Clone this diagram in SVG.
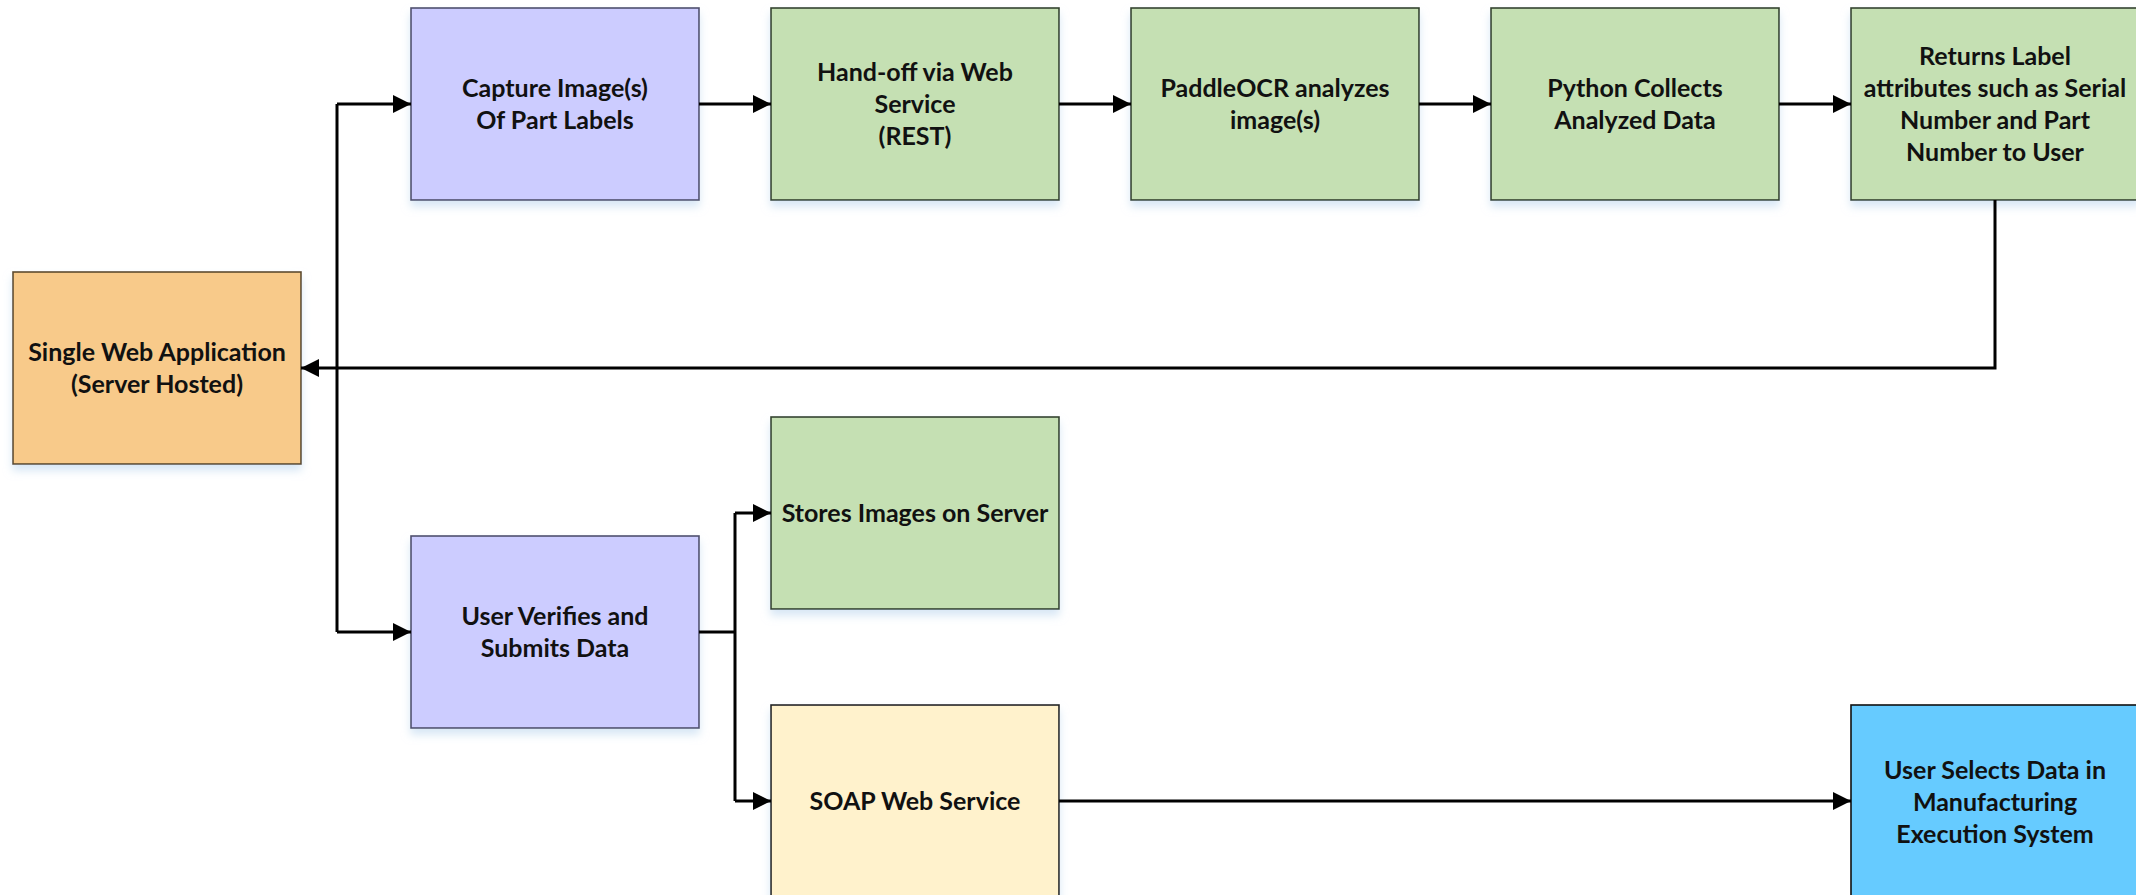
<svg xmlns="http://www.w3.org/2000/svg" width="2136" height="895" viewBox="0 0 2136 895">
<style>
.box{stroke-width:1.6}
.orange{fill:#F8CA8A;stroke:#5E4B2E}
.lav{fill:#CCCCFF;stroke:#4F4F6E}
.green{fill:#C5E0B3;stroke:#34432D}
.yellow{fill:#FFF2CC;stroke:#222}
.blue{fill:#66CBFF;stroke:#111}
text{font-family:Lato,"Open Sans","Liberation Sans",sans-serif;font-weight:bold;font-size:25px;fill:#111;text-anchor:middle}
.conn{fill:none;stroke:#000;stroke-width:3}
</style>
<defs>
<filter id="sh" x="-10%" y="-10%" width="120%" height="130%">
<feDropShadow dx="0" dy="6" stdDeviation="4" flood-color="#BDD7EE" flood-opacity="0.6"/>
</filter>
<marker id="arr" viewBox="0 0 10 10" refX="10" refY="5" markerWidth="6" markerHeight="6" markerUnits="strokeWidth" orient="auto">
<path d="M0,0 L10,5 L0,10 Z" fill="#000"/>
</marker>
</defs>
<rect width="2136" height="895" fill="#fff"/>

<g id="swa"><rect class="box orange" x="13" y="272" width="288" height="192" filter="url(#sh)"/>
<text x="157" y="361">Single Web Application</text><text x="157" y="393">(Server Hosted)</text></g>

<g id="capture"><rect class="box lav" x="411" y="8" width="288" height="192" filter="url(#sh)"/>
<text x="555" y="97">Capture Image(s)</text><text x="555" y="129">Of Part Labels</text></g>

<g id="handoff"><rect class="box green" x="771" y="8" width="288" height="192" filter="url(#sh)"/>
<text x="915" y="81">Hand-off via Web</text><text x="915" y="113">Service</text><text x="915" y="145">(REST)</text></g>

<g id="paddle"><rect class="box green" x="1131" y="8" width="288" height="192" filter="url(#sh)"/>
<text x="1275" y="97">PaddleOCR analyzes</text><text x="1275" y="129">image(s)</text></g>

<g id="python"><rect class="box green" x="1491" y="8" width="288" height="192" filter="url(#sh)"/>
<text x="1635" y="97">Python Collects</text><text x="1635" y="129">Analyzed Data</text></g>

<g id="returns"><rect class="box green" x="1851" y="8" width="288" height="192" filter="url(#sh)"/>
<text x="1995" y="65">Returns Label</text><text x="1995" y="97">attributes such as Serial</text><text x="1995" y="129">Number and Part</text><text x="1995" y="161">Number to User</text></g>

<g id="stores"><rect class="box green" x="771" y="417" width="288" height="192" filter="url(#sh)"/>
<text x="915" y="522">Stores Images on Server</text></g>

<g id="verify"><rect class="box lav" x="411" y="536" width="288" height="192" filter="url(#sh)"/>
<text x="555" y="625">User Verifies and</text><text x="555" y="657">Submits Data</text></g>

<g id="soap"><rect class="box yellow" x="771" y="705" width="288" height="192" filter="url(#sh)"/>
<text x="915" y="810">SOAP Web Service</text></g>

<g id="mes"><rect class="box blue" x="1851" y="705" width="288" height="192"/>
<text x="1995" y="779">User Selects Data in</text><text x="1995" y="811">Manufacturing</text><text x="1995" y="843">Execution System</text></g>

<g id="connectors">
<path class="conn" d="M337,104 V632"/>
<path class="conn" d="M337,104 H411" marker-end="url(#arr)"/>
<path class="conn" d="M337,632 H411" marker-end="url(#arr)"/>
<path class="conn" d="M699,104 H771" marker-end="url(#arr)"/>
<path class="conn" d="M1059,104 H1131" marker-end="url(#arr)"/>
<path class="conn" d="M1419,104 H1491" marker-end="url(#arr)"/>
<path class="conn" d="M1779,104 H1851" marker-end="url(#arr)"/>
<path class="conn" d="M1995,200 V368 H301" marker-end="url(#arr)"/>
<path class="conn" d="M699,632 H735"/>
<path class="conn" d="M735,513 V801"/>
<path class="conn" d="M735,513 H771" marker-end="url(#arr)"/>
<path class="conn" d="M735,801 H771" marker-end="url(#arr)"/>
<path class="conn" d="M1059,801 H1851" marker-end="url(#arr)"/>
</g>
</svg>
